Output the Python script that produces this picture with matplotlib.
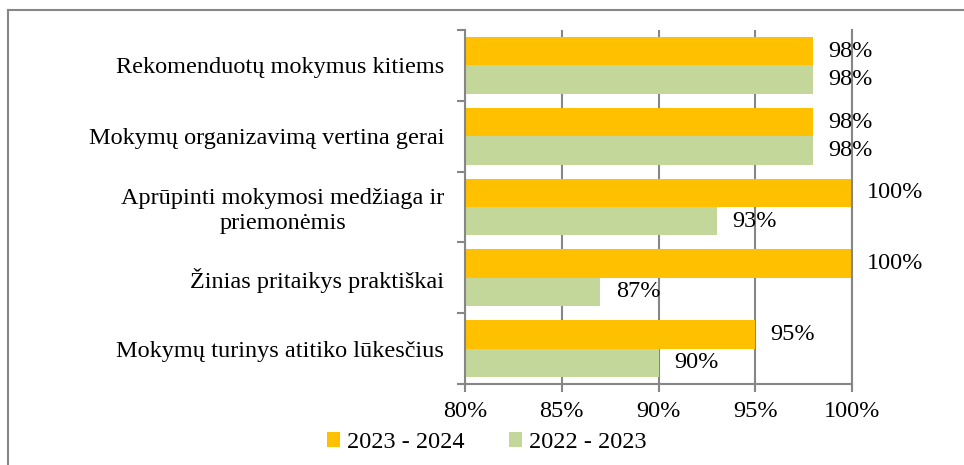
import matplotlib.pyplot as plt
import numpy as np
from matplotlib.lines import Line2D

categories = ['Mokymų turinys atitiko lūkesčius',
              'Žinias pritaikys praktiškai',
              'Aprūpinti mokymosi medžiaga ir\npriemonėmis',
              'Mokymų organizavimą vertina gerai',
              'Rekomenduotų mokymus kitiems']
series_names = ['2023 - 2024', '2022 - 2023']
values_2324 = [95, 100, 100, 98, 98]
values_2223 = [90, 87, 93, 98, 98]
x_ticks = [80, 85, 90, 95, 100]

orange = '#FFC000'
green = '#C4D79B'
gray = '#868686'

plt.rcParams['font.family'] = ['Liberation Serif', 'DejaVu Serif']

fig = plt.figure(figsize=(9.64, 4.65), dpi=100)
ax = fig.add_axes([0.4824, 0.1742, 0.4015, 0.7613])

y = np.arange(len(categories))
h = 0.4
ax.barh(y + h / 2, values_2324, height=h, color=orange, label=series_names[0], zorder=3)
ax.barh(y - h / 2, values_2223, height=h, color=green, label=series_names[1], zorder=3)

fs = 17.5
for i in range(len(categories)):
    ax.annotate(f'{values_2324[i]}%', (values_2324[i], y[i] + h / 2), xytext=(11, 0),
                textcoords='offset points', va='center', ha='left', fontsize=fs, zorder=4)
    ax.annotate(f'{values_2223[i]}%', (values_2223[i], y[i] - h / 2), xytext=(11, 0),
                textcoords='offset points', va='center', ha='left', fontsize=fs, zorder=4)

ax.set_xlim(80, 100)
ax.set_ylim(-0.5, len(categories) - 0.5)
ax.set_xticks(x_ticks)
ax.set_xticklabels([f'{t}%' for t in x_ticks], fontsize=fs)
ax.set_yticks(y)
ax.set_yticklabels(categories, fontsize=fs, multialignment='center')
ax.set_yticks(np.arange(-0.5, len(categories)), minor=True)
ax.tick_params(axis='y', which='major', length=0, pad=15)
ax.tick_params(axis='y', which='minor', length=6, width=1.5, color=gray, direction='out')
ax.tick_params(axis='x', length=6, width=1.5, color=gray, direction='out', pad=6)

ax.grid(axis='x', color=gray, linewidth=1.5, zorder=1)
ax.spines['top'].set_visible(False)
for s in ['left', 'bottom', 'right']:
    ax.spines[s].set_color(gray)
    ax.spines[s].set_linewidth(1.5)
    ax.spines[s].set_zorder(3.5)

fig.legend(loc='center', bbox_to_anchor=(0.505, 0.048), ncol=2, frameon=False,
           fontsize=fs, handlelength=0.55, handleheight=0.55, handletextpad=0.3,
           columnspacing=1.8, borderpad=0)

# chart area border (left and top visible)
fig.add_artist(Line2D([0.0088, 0.0088], [0, 0.978], color=gray, linewidth=1.5, transform=fig.transFigure))
fig.add_artist(Line2D([0.0088, 1], [0.978, 0.978], color=gray, linewidth=1.5, transform=fig.transFigure))

fig.savefig('out.png', dpi=100)
